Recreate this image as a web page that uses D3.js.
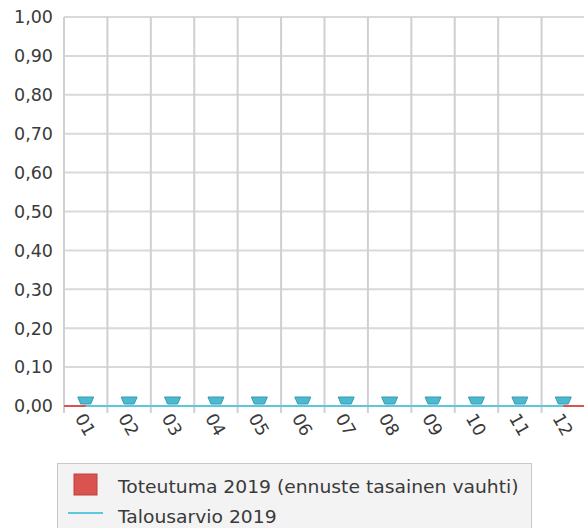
<!DOCTYPE html>
<html><head><meta charset="utf-8">
<script src="https://cdn.jsdelivr.net/npm/d3@7"></script>
<style>body{margin:0;background:#fff}svg{display:block}</style>
</head><body>
<svg id="c" width="584" height="528"></svg>
<script>
const months = ["01","02","03","04","05","06","07","08","09","10","11","12"];
const toteutuma = [0,0,0,0,0,0,0,0,0,0,0,0];
const talousarvio = [0,0,0,0,0,0,0,0,0,0,0,0];
const yTicks = [0,0.1,0.2,0.3,0.4,0.5,0.6,0.7,0.8,0.9,1.0];
const legendLabels = ["Toteutuma 2019 (ennuste tasainen vauhti)","Talousarvio 2019"];

const svg = d3.select("#c");
const L = 64, R = 585, T = 17, B = 406;
const font = "'DejaVu Sans', sans-serif";
const x = d3.scaleBand().domain(months).range([L, R]).padding(0);
const y = d3.scaleLinear().domain([0, 1]).range([B, T]);
const fmt = v => d3.format(".2f")(v).replace(".", ",");

// grid
svg.append("g").selectAll("line").data(yTicks).join("line")
  .attr("x1", L).attr("x2", R).attr("y1", d => y(d)).attr("y2", d => y(d))
  .attr("stroke", "#d9d9d9").attr("stroke-width", 2);
svg.append("g").selectAll("line").data(months).join("line")
  .attr("x1", d => x(d)).attr("x2", d => x(d)).attr("y1", T).attr("y2", B + 7)
  .attr("stroke", "#d0d0d0").attr("stroke-width", 2);

// y labels
svg.append("g").selectAll("text").data(yTicks).join("text")
  .attr("x", 53).attr("y", d => y(d)).attr("dy", "0.36em")
  .attr("text-anchor", "end").attr("font-family", font).attr("font-size", 17.5)
  .attr("fill", "#3a3a3a").text(fmt);

// x labels
svg.append("g").selectAll("text").data(months).join("text")
  .attr("transform", d => `translate(${x(d) + x.bandwidth()/2 - 6},${B + 9}) rotate(60)`)
  .attr("font-family", font).attr("font-size", 17.5).attr("fill", "#3a3a3a")
  .attr("text-anchor", "start").attr("dy", "0.35em").text(d => d);

// bars (zero)
svg.append("g").selectAll("rect").data(toteutuma).join("rect")
  .attr("x", (d, i) => x(months[i])).attr("width", x.bandwidth())
  .attr("y", d => y(d) - 1).attr("height", d => B - y(d) + 2)
  .attr("fill", "#d9534f");

// line
const cx = (d, i) => x(months[i]) + x.bandwidth() / 2;
svg.append("path").datum(talousarvio)
  .attr("d", d3.line().x(cx).y(d => y(d)))
  .attr("fill", "none").attr("stroke", "#5bc8e0").attr("stroke-width", 2);

// markers (inverted trapezoid)
svg.append("g").selectAll("path").data(talousarvio).join("path")
  .attr("transform", (d, i) => `translate(${cx(d, i)},${y(d)})`)
  .attr("d", "M-8,-9 L8,-9 L5,-2 L-5,-2 Z")
  .attr("fill", "#4cb9d0").attr("stroke", "#3a9ab0").attr("stroke-width", 1)
  .attr("stroke-linejoin", "round");

// legend
const lg = svg.append("g");
lg.append("rect").attr("x", 57.5).attr("y", 463.5).attr("width", 474).attr("height", 80)
  .attr("fill", "#f3f3f3").attr("stroke", "#c8c8c8");
lg.append("rect").attr("x", 74).attr("y", 474).attr("width", 23).attr("height", 21)
  .attr("fill", "#d9534f").attr("stroke", "#c0403c");
lg.append("line").attr("x1", 68).attr("x2", 103).attr("y1", 513).attr("y2", 513)
  .attr("stroke", "#5bc8e0").attr("stroke-width", 2);
lg.selectAll("text").data(legendLabels).join("text")
  .attr("x", 118).attr("y", (d, i) => 493 + i * 30)
  .attr("font-family", font).attr("font-size", 17.5).attr("fill", "#3a3a3a").text(d => d)
  .each(function() {
    const w = this.getComputedTextLength();
    d3.select(this).attr("textLength", w * 1.07).attr("lengthAdjust", "spacingAndGlyphs");
  });
</script>
</body></html>
